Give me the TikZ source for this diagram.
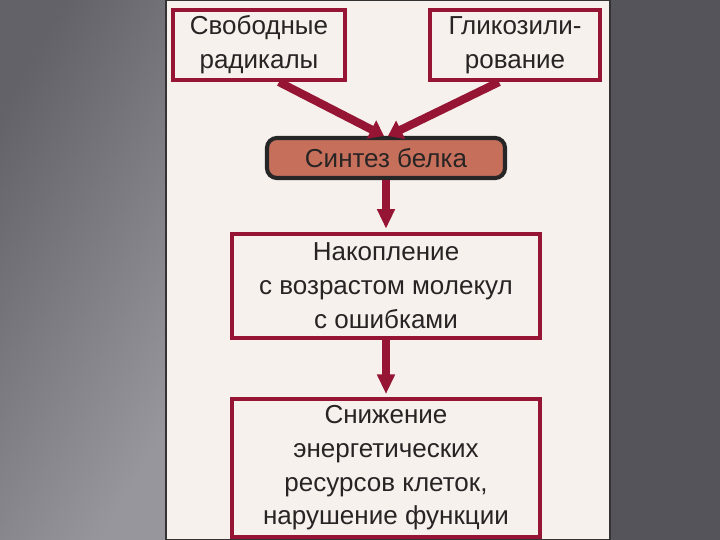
\documentclass[tikz,border=0pt]{standalone}
\usepackage{fontspec}
\setmainfont{Liberation Sans}
\usepackage{xcolor}
\definecolor{frameRed}{RGB}{150,20,52}
\definecolor{pillFill}{RGB}{198,112,92}
\definecolor{paper}{RGB}{246,241,237}
\definecolor{slateL}{RGB}{150,150,156}
\definecolor{slateD}{RGB}{98,98,104}
\definecolor{slateR}{RGB}{84,84,90}
\definecolor{ink}{RGB}{40,36,36}
\usetikzlibrary{positioning,arrows.meta}

\begin{document}
\begin{tikzpicture}[
    box/.style={draw=frameRed, line width=2.9pt, fill=paper, align=center,
                inner sep=2pt, text=ink, font=\fontsize{18.5}{24}\selectfont},
    pill/.style={box, draw=black!85, fill=pillFill, rounded corners=7pt},
    arr/.style={-{Triangle[length=10pt, width=14pt]}, line width=5.8pt, frameRed},
    arrv/.style={-{Triangle[length=14pt, width=12pt]}, line width=5pt, frameRed,
                 shorten >=2pt},
]

% --- BACKGROUND ---
\useasboundingbox (0,0) rectangle (18,13.5);
\shade[left color=slateD, right color=slateL, shading angle=60]
    (0,0) rectangle (4.15,13.5);
\fill[slateR] (15.25,0) rectangle (18,13.5);
\fill[paper] (4.15,0) rectangle (15.25,13.5);
\draw[black!80, line width=1.5pt] (4.15,0) rectangle (15.25,13.5);

% --- NODES ---
\node[box, minimum width=4.3cm, minimum height=1.75cm]
      (rad) at (6.475, 12.375) {Свободные\\радикалы};

\node[box, minimum width=4.25cm, minimum height=1.75cm]
      (gly) at (12.875, 12.375) {Гликозили-\\рование};

\node[pill, minimum width=5.95cm, minimum height=1.0cm]
      (syn) at (9.65, 9.55) {Синтез белка};

\node[box, minimum width=7.7cm, minimum height=2.6cm]
      (acc) at (9.65, 6.36) {Накопление\\с возрастом молекул\\с ошибками};

\node[box, minimum width=7.7cm, minimum height=3.45cm]
      (low) at (9.65, 1.8) {Снижение\\энергетических\\ресурсов клеток,\\нарушение функции};

% --- ARROWS ---
\draw[arr] ([xshift=0.5cm]rad.south) -- ([xshift=-0.05cm]syn.north);
\draw[arr] ([xshift=-0.4cm]gly.south) -- ([xshift=0.05cm]syn.north);

\draw[arrv] (syn.south) -- (acc.north);
\draw[arrv] (acc.south) -- (low.north);

\end{tikzpicture}
\end{document}
